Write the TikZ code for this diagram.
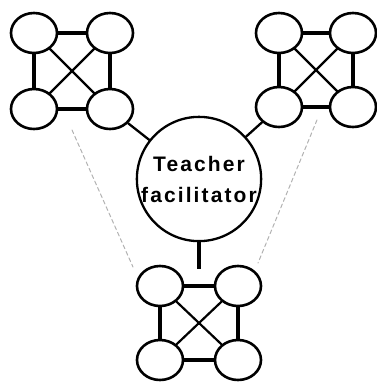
\documentclass[tikz,border=0pt]{standalone}
\usepackage{fontspec}
\newfontfamily\hubfont[LetterSpace=10]{Liberation Sans Bold}
\usetikzlibrary{shapes.geometric}
\begin{document}
\begin{tikzpicture}[x=1pt,y=-1pt, line join=round, line cap=round]
	\tikzset{
		member/.style={ellipse, draw, fill=white, line width=2.6pt, minimum width=46pt, minimum height=40pt, inner sep=0pt},
		hub/.style={circle, draw, fill=white, line width=2.3pt, minimum size=121pt, inner sep=0pt, align=center, font=\hubfont\fontsize{21}{31}\selectfont},
		side/.style={line width=3.6pt},
		cross/.style={line width=2.2pt},
		link/.style={line width=2.3pt},
		stub/.style={line width=4pt, line cap=butt},
		guide/.style={gray!60, line width=1pt, dash pattern=on 4pt off 3pt}
	}
	\useasboundingbox (0,0) rectangle (377,384);
	%\draw[color=gray!50,dashed] (0,0) grid[step=20] (377,384);
	% faint guides to the lower group
	\coordinate (gl1) at (72,130); \coordinate (gl2) at (133,267);
	\coordinate (gr1) at (317,120); \coordinate (gr2) at (258,263);
	\draw[guide] (gl1)--(gl2);
	\draw[guide] (gr1)--(gr2);
	% learner groups
	\foreach \g/\cx/\cy/\dx/\dy in {L/72/71/38/38, R/316/70/37/37, B/199/323/39/37}{
		\node[member] (\g-nw) at (\cx-\dx,\cy-\dy) {};
		\node[member] (\g-ne) at (\cx+\dx,\cy-\dy) {};
		\node[member] (\g-sw) at (\cx-\dx,\cy+\dy) {};
		\node[member] (\g-se) at (\cx+\dx,\cy+\dy) {};
		\draw[side] (\g-nw)--(\g-ne);
		\draw[side] (\g-sw)--(\g-se);
		\draw[side] (\g-nw)--(\g-sw);
		\draw[side] (\g-ne)--(\g-se);
		\draw[cross] (\g-nw)--(\g-se);
		\draw[cross] (\g-ne)--(\g-sw);
	}
	% facilitator
	\node[hub] (hub) at (199,179) {Teacher\\facilitator};
	\draw[link] (L-se)--(hub);
	\draw[link] (R-sw)--(hub);
	\draw[stub] (hub.south)--++(0,27) coordinate (stubend);
\end{tikzpicture}
\end{document}
